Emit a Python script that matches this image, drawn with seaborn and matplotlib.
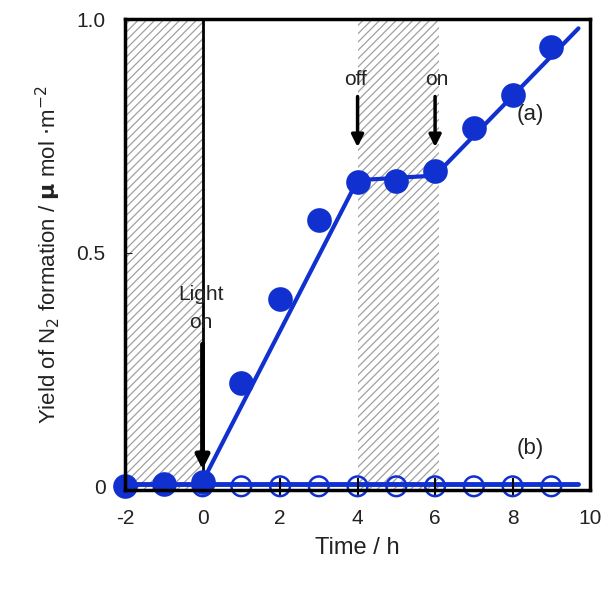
import numpy as np
import pandas as pd
import matplotlib.pyplot as plt
import seaborn as sns

# data
time_a = [-2, -1, 0, 1, 2, 3, 4, 5, 6, 7, 8, 9]
yield_a = [0.0, 0.005, 0.01, 0.222, 0.40, 0.57, 0.652, 0.653, 0.675, 0.767, 0.838, 0.94]
fit_a_x = [0, 4, 6, 9.7]
fit_a_y = [0.01, 0.655, 0.665, 0.98]

time_b = [0, 1, 2, 3, 4, 5, 6, 7, 8, 9]
yield_b = [0, 0, 0, 0, 0, 0, 0, 0, 0, 0]
err_b = [0, 0, 0.018, 0, 0.018, 0, 0.018, 0, 0.018, 0]
fit_b_x = [-2, 9.7]
fit_b_y = [0.006, 0.006]

dark_periods = [(-2, 0), (4, 6.1)]

blue = "#1030d0"

sns.set_style("ticks")
plt.rcParams['font.family'] = ['Liberation Sans', 'DejaVu Sans']
plt.rcParams['hatch.linewidth'] = 0.9
plt.rcParams['axes.unicode_minus'] = False

fig = plt.figure(figsize=(6.04, 5.94), dpi=100)
ax = fig.add_axes([0.207, 0.175, 0.770, 0.793])

# dark periods
for x0, x1 in dark_periods:
    ax.axvspan(x0, x1, facecolor='none', edgecolor='#a0a0a0', lw=0, hatch='////', zorder=0)
ax.axvline(0, color='black', lw=2, zorder=1)

# fitted lines
sns.lineplot(x=fit_b_x, y=fit_b_y, ax=ax, color=blue, lw=3.5, zorder=2)
sns.lineplot(x=fit_a_x, y=fit_a_y, ax=ax, color=blue, lw=3, zorder=2)

# (b) open circles with error bars
ax.errorbar(time_b, yield_b, yerr=err_b, fmt='none', ecolor='black', elinewidth=1.5,
            zorder=3, clip_on=False)
sns.scatterplot(x=time_b, y=yield_b, ax=ax, s=200, facecolor='none',
                edgecolor=blue, linewidth=1.8, zorder=4, clip_on=False)

# (a) filled circles
sns.scatterplot(x=time_a, y=yield_a, ax=ax, s=270, color=blue,
                edgecolor=blue, zorder=5, clip_on=False)

ax.set_xlim(-2, 10)
ax.set_ylim(-0.008, 1.0)
ax.set_xticks([-2, 0, 2, 4, 6, 8, 10])
ax.set_yticks([0, 0.5, 1.0])
ax.set_yticklabels(['0', '0.5', '1.0'])
ax.tick_params(labelsize=15, colors='#222222', direction='in', length=5, pad=14)
for s in ax.spines.values():
    s.set_linewidth(2.5)
    s.set_color('black')
    s.set_zorder(6)

ax.set_xlabel('Time / h', fontsize=17, color='#222222', labelpad=6)
ax.set_ylabel(r'Yield of N$_2$ formation / $\mathbf{\mu}$ mol $\cdot$m$^{-2}$',
              fontsize=16, color='#222222', labelpad=10)

# annotations
arrow = dict(arrowstyle='-|>', color='black', lw=3.5, mutation_scale=20)
ax.annotate('', xy=(0.0, 0.03), xytext=(0.0, 0.31), arrowprops=arrow)
ax.text(-0.05, 0.33, 'Light\non', ha='center', va='bottom', fontsize=15, color='#222222',
        linespacing=1.6)
arrow2 = dict(arrowstyle='-|>', color='black', lw=2.5, mutation_scale=18)
ax.annotate('', xy=(4.0, 0.72), xytext=(4.0, 0.84), arrowprops=arrow2)
ax.text(3.95, 0.85, 'off', ha='center', va='bottom', fontsize=15, color='#222222')
ax.annotate('', xy=(6.0, 0.72), xytext=(6.0, 0.84), arrowprops=arrow2)
ax.text(6.05, 0.85, 'on', ha='center', va='bottom', fontsize=15, color='#222222')
ax.text(8.45, 0.795, '(a)', ha='center', va='center', fontsize=16, color='#222222')
ax.text(8.45, 0.08, '(b)', ha='center', va='center', fontsize=16, color='#222222')

fig.savefig('out.png', dpi=100)
